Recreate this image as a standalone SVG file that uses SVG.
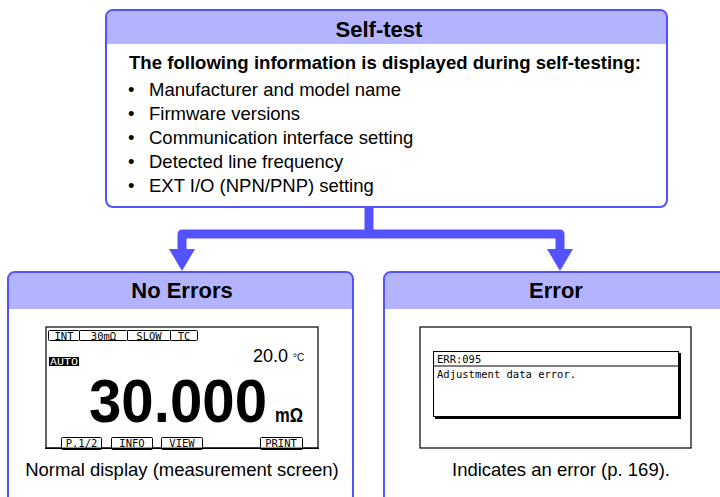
<svg xmlns="http://www.w3.org/2000/svg" width="720" height="497" viewBox="0 0 720 497">
<defs>
<style>
.box{fill:#fff;stroke:#5252ff;stroke-width:2}
.hdr{fill:#b3b3ff}
.title{font-family:"Liberation Sans",Arial,sans-serif;font-weight:bold;font-size:22px;fill:#000;text-anchor:middle}
.txt{font-family:"Liberation Sans",Arial,sans-serif;font-size:18.5px;fill:#000}
.lcd{fill:#fff;stroke:#000;stroke-width:1.2}
.px{font-family:"DejaVu Sans Mono","Liberation Mono",monospace;font-size:10.5px;fill:#000}
.tab{fill:#fff;stroke:#000;stroke-width:1}
.conn{fill:none;stroke:#5252ff;stroke-width:9;stroke-linejoin:round}
</style>
</defs>
<rect width="720" height="497" fill="#fff"/>

<g id="selftest">
<path class="hdr" d="M107,44 V17 a6,6 0 0 1 6,-6 H660 a6,6 0 0 1 6,6 V44 Z"/>
<path d="M106,17 a7,7 0 0 1 7,-7 H660 a7,7 0 0 1 7,7 V200 a7,7 0 0 1 -7,7 H113 a7,7 0 0 1 -7,-7 Z" fill="none" stroke="#5252ff" stroke-width="2"/>
<text class="title" x="379" y="37" font-size="21.5">Self-test</text>
<text x="129" y="69" font-family="Liberation Sans,Arial,sans-serif" font-weight="bold" font-size="18.5" fill="#000" textLength="512" lengthAdjust="spacingAndGlyphs">The following information is displayed during self-testing:</text>
<g class="txt">
<text x="128" y="96">•</text><text x="149" y="96">Manufacturer and model name</text>
<text x="128" y="120">•</text><text x="149" y="120">Firmware versions</text>
<text x="128" y="144">•</text><text x="149" y="144">Communication interface setting</text>
<text x="128" y="168">•</text><text x="149" y="168">Detected line frequency</text>
<text x="128" y="192">•</text><text x="149" y="192">EXT I/O (NPN/PNP) setting</text>
</g>
</g>

<g id="connectors">
<path class="conn" d="M369,208 V234" stroke-width="8"/>
<path class="conn" d="M182,252 V234 H560 V252"/>
<polygon points="169,249 195,249 182,271" fill="#5252ff"/>
<polygon points="547,249 573,249 560,271" fill="#5252ff"/>
</g>

<g id="noerrors">
<path class="hdr" d="M9,309 V279 a6,6 0 0 1 6,-6 H346 a6,6 0 0 1 6,6 V309 Z"/>
<path d="M8,500 V279 a7,7 0 0 1 7,-7 H346 a7,7 0 0 1 7,7 V500" fill="none" stroke="#5252ff" stroke-width="2"/>
<text class="title" x="182" y="298">No Errors</text>
<rect class="lcd" x="46" y="327" width="272" height="121"/>
<g class="px">
<rect class="tab" x="48.5" y="330.5" width="31" height="10" rx="1"/>
<rect class="tab" x="79.5" y="330.5" width="48" height="10" rx="1"/>
<rect class="tab" x="127.5" y="330.5" width="43" height="10" rx="1"/>
<rect class="tab" x="170.5" y="330.5" width="27" height="10" rx="1"/>
<text x="64" y="339.5" text-anchor="middle">INT</text>
<text x="103.5" y="339.5" text-anchor="middle">30mΩ</text>
<text x="149" y="339.5" text-anchor="middle">SLOW</text>
<text x="184" y="339.5" text-anchor="middle">TC</text>
<rect x="49" y="357" width="30" height="9" fill="#000"/>
<text x="64" y="365" text-anchor="middle" fill="#fff" font-size="9" textLength="28" lengthAdjust="spacingAndGlyphs">AUTO</text>
<rect class="tab" x="61.5" y="437.5" width="40" height="12" rx="1"/>
<rect class="tab" x="111.5" y="437.5" width="41" height="12" rx="1"/>
<rect class="tab" x="161.5" y="437.5" width="41" height="12" rx="1"/>
<rect class="tab" x="260.5" y="437.5" width="42" height="12" rx="1"/>
<text x="81.5" y="447" text-anchor="middle">P.1/2</text>
<text x="132" y="447" text-anchor="middle">INFO</text>
<text x="182" y="447" text-anchor="middle">VIEW</text>
<text x="281" y="447" text-anchor="middle">PRINT</text>
</g>
<rect x="45" y="447.6" width="274" height="1.4" fill="#000"/>
<text x="253" y="362" font-family="Liberation Sans,Arial,sans-serif" font-size="19" fill="#000" textLength="35" lengthAdjust="spacingAndGlyphs">20.0</text>
<text x="293" y="361" font-family="Liberation Sans,Arial,sans-serif" font-size="10" fill="#000">°C</text>
<text x="89" y="422" font-family="Liberation Sans,Arial,sans-serif" font-weight="bold" font-size="61" fill="#000" textLength="178" lengthAdjust="spacingAndGlyphs">30.000</text>
<text x="275" y="422" font-family="Liberation Sans,Arial,sans-serif" font-weight="bold" font-size="20" fill="#000" textLength="28" lengthAdjust="spacingAndGlyphs">mΩ</text>
<text class="txt" x="182" y="476" text-anchor="middle">Normal display (measurement screen)</text>
</g>

<g id="error">
<path class="hdr" d="M385,309 V279 a6,6 0 0 1 6,-6 H730 V309 Z"/>
<path d="M384,500 V279 a7,7 0 0 1 7,-7 H730" fill="none" stroke="#5252ff" stroke-width="2"/>
<text class="title" x="556" y="298">Error</text>
<rect class="lcd" x="420" y="327" width="271" height="121"/>
<rect x="435" y="353" width="246" height="66" fill="#000"/>
<rect x="433.5" y="351.5" width="245" height="65" fill="#fff" stroke="#000" stroke-width="1"/>
<line x1="433.5" y1="366" x2="678.5" y2="366" stroke="#000" stroke-width="1"/>
<text class="px" x="437" y="363" font-size="11">ERR:095</text>
<text class="px" x="437" y="378" font-size="11">Adjustment data error.</text>
<text class="txt" x="561" y="476" text-anchor="middle">Indicates an error (p. 169).</text>
</g>
</svg>
